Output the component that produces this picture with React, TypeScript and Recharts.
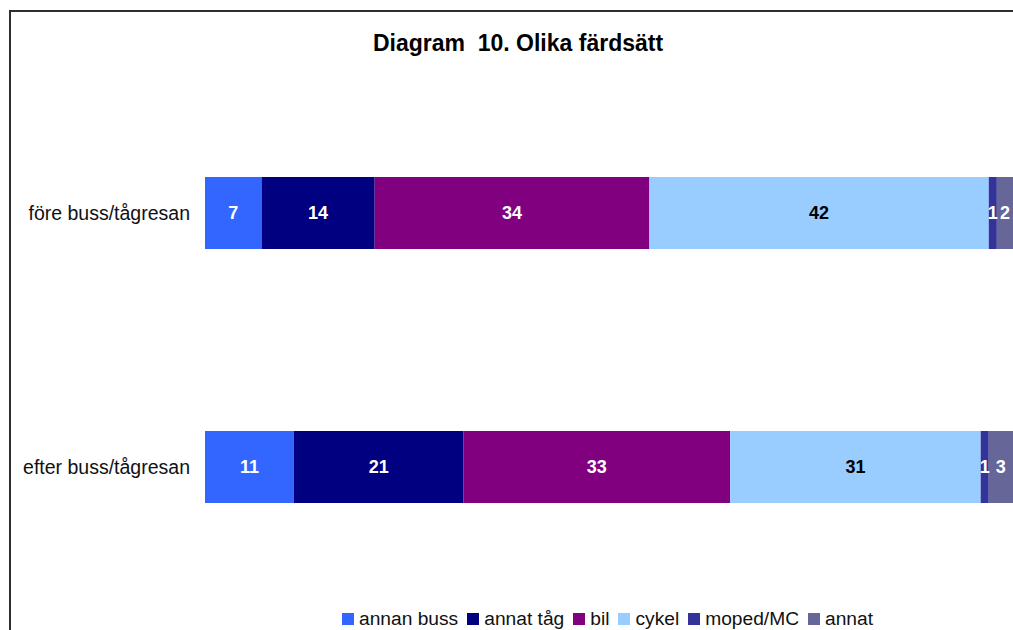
import { BarChart, Bar, XAxis, YAxis, LabelList } from "recharts";

const categories = ["före buss/tågresan", "efter buss/tågresan"];
const annanBuss = [7, 11];
const annatTag = [14, 21];
const bil = [34, 33];
const cykel = [42, 31];
const mopedMC = [1, 1];
const annat = [2, 3];

const series = [
  { key: "annanBuss", name: "annan buss", values: annanBuss, color: "#3366FF", label: "#ffffff" },
  { key: "annatTag", name: "annat tåg", values: annatTag, color: "#000080", label: "#ffffff" },
  { key: "bil", name: "bil", values: bil, color: "#800080", label: "#ffffff" },
  { key: "cykel", name: "cykel", values: cykel, color: "#99CCFF", label: "#000000" },
  { key: "moped", name: "moped/MC", values: mopedMC, color: "#333399", label: "#ffffff" },
  { key: "annat", name: "annat", values: annat, color: "#666699", label: "#ffffff" },
];

const data = categories.map((cat, i) => {
  const row: Record<string, string | number> = { cat };
  for (const s of series) row[s.key] = s.values[i];
  return row;
});

const FONT = '"Liberation Sans", Arial, Helvetica, sans-serif';

export default function App() {
  return (
    <div
      style={{
        position: "absolute",
        left: 0,
        top: 0,
        width: 1013,
        height: 630,
        overflow: "hidden",
        background: "#fff",
        fontFamily: FONT,
      }}
    >
      {/* chart frame, only left and top edges are visible */}
      <div
        style={{
          position: "absolute",
          left: 9,
          top: 10,
          width: 1100,
          height: 700,
          borderLeft: "2px solid #2e2e2e",
          borderTop: "2px solid #2e2e2e",
        }}
      />
      <div
        style={{
          position: "absolute",
          left: 0,
          top: 30,
          width: 1036,
          textAlign: "center",
          fontSize: 23,
          fontWeight: "bold",
          color: "#000",
          whiteSpace: "pre",
        }}
      >
        {"Diagram  10. Olika färdsätt"}
      </div>
      <div style={{ position: "absolute", left: 0, top: 0 }}>
        <BarChart
          width={1013}
          height={630}
          data={data}
          layout="vertical"
          margin={{ top: 86, right: 0, bottom: 36, left: 0 }}
          barSize={72}
        >
          <XAxis type="number" domain={[0, 100]} hide />
          <YAxis
            type="category"
            dataKey="cat"
            width={205}
            axisLine={false}
            tickLine={false}
            tickSize={0}
            tickMargin={15}
            tick={{ fontSize: 19.5, fill: "#111", fontFamily: FONT }}
          />
          {series.map((s) => (
            <Bar key={s.key} dataKey={s.key} name={s.name} stackId="a" fill={s.color} isAnimationActive={false}>
              <LabelList
                dataKey={s.key}
                position="center"
                fill={s.label}
                style={{ fontSize: 18, fontWeight: "bold", fontFamily: FONT }}
              />
            </Bar>
          ))}
        </BarChart>
      </div>
      <div
        style={{
          position: "absolute",
          left: 342,
          top: 607,
          display: "flex",
          alignItems: "center",
          fontSize: 19.2,
          color: "#111",
          whiteSpace: "nowrap",
          lineHeight: "24px",
        }}
      >
        {series.map((s) => (
          <span key={s.key} style={{ display: "flex", alignItems: "center", marginRight: 9 }}>
            <span style={{ width: 12, height: 12, background: s.color, display: "inline-block", marginRight: 5 }} />
            {s.name}
          </span>
        ))}
      </div>
    </div>
  );
}
